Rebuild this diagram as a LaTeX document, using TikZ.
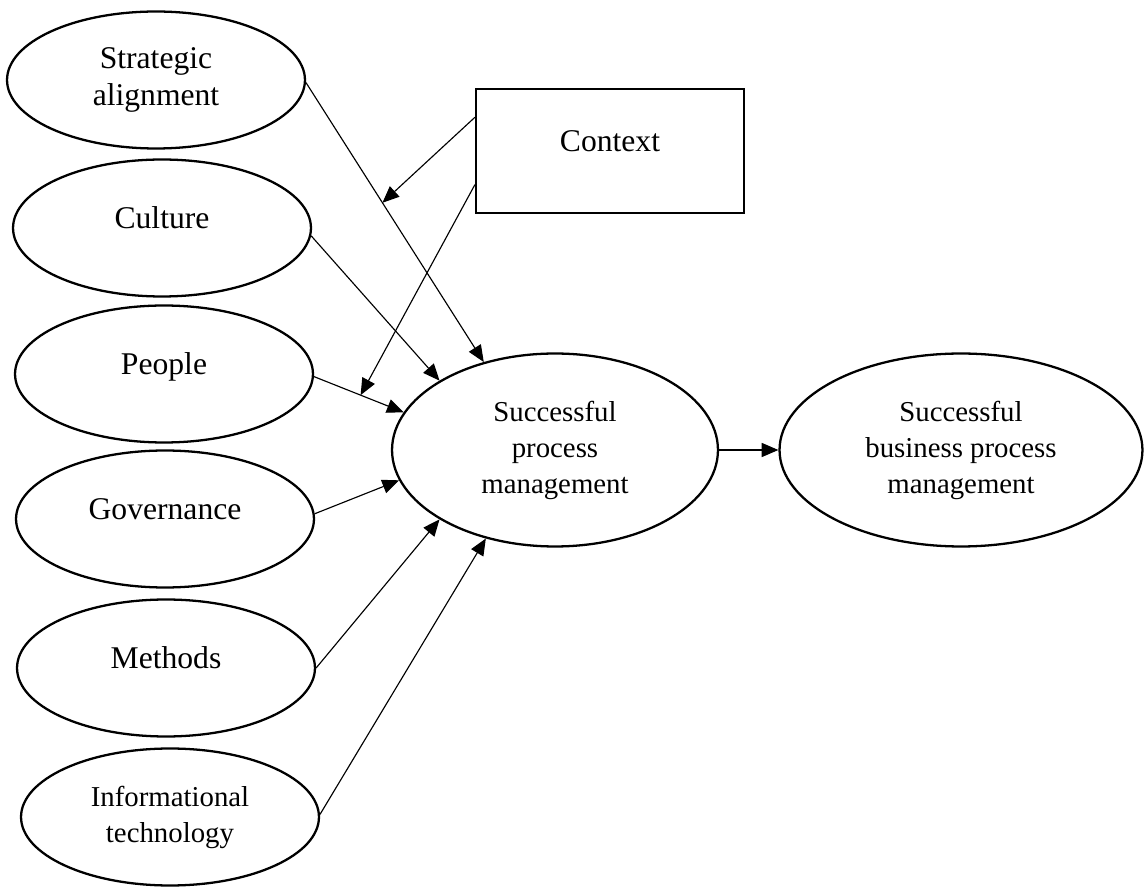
\documentclass[tikz,border=0pt]{standalone}
\usepackage{fontspec}
\setmainfont{Liberation Serif}
\usepackage{tikz}
\usetikzlibrary{shapes.geometric}
\usetikzlibrary{arrows.meta}
\usetikzlibrary{calc}

\begin{document}
\begin{tikzpicture}
[x=0.02cm,y=-0.02cm,
factor/.style={ellipse,draw=black,line width=1.3pt,inner sep=0pt,align=center,
  minimum width=5.96cm,minimum height=2.74cm,font=\fontsize{18}{21.5}\selectfont},
oneline/.style={text height=12.5pt,text depth=11.5pt},
small/.style={font=\fontsize{16.4}{20.5}\selectfont},
outcome/.style={ellipse,draw=black,line width=1.3pt,inner sep=0pt,align=center,
  minimum height=3.86cm,font=\fontsize{16.4}{20.5}\selectfont},
ctxbox/.style={rectangle,draw=black,line width=1.3pt,inner sep=0pt,
  minimum width=5.36cm,minimum height=2.48cm,font=\fontsize{18}{21.5}\selectfont},
link/.style={-{Triangle[length=9.5pt,width=8pt]},line width=0.65pt,draw=black}]

\useasboundingbox (0,0) rectangle (1144,888);

\node at (156,80)  [factor]         (strat) {Strategic\\alignment};
\node at (162,228) [factor,oneline] (cult)  {Culture};
\node at (164,374) [factor,oneline] (peop)  {People};
\node at (165,519) [factor,oneline] (gov)   {Governance};
\node at (166,668) [factor,oneline] (meth)  {Methods};
\node at (170,817) [factor,small]   (it)    {Informational\\technology};

\node at (610,151) [ctxbox,oneline] (ctx) {Context};

\node at (555,450) [outcome,minimum width=6.52cm] (spm)  {Successful\\process\\management};
\node at (961,450) [outcome,minimum width=7.26cm] (sbpm) {Successful\\business process\\management};

\draw [link] (strat.-1) to (spm.129.7);
\draw [link] (cult.-3)  to (spm.149.3);
\draw [link] (peop.-1)  to (spm.166.1);
\draw [link] (gov.2)    to (spm.191.4);
\draw [link] (meth.0)   to (spm.211);
\draw [link] (it.1)     to (spm.232);
\draw [link] (spm.east) to (sbpm.west);

\coordinate (mod1) at ($(strat.-1)!0.43!(spm.129.7)$);
\coordinate (mod2) at ($(peop.-1)!0.52!(spm.166.1)$);
\draw [link] (ctx.166.6) to (mod1);
\draw [link] (ctx.194.6) to (mod2);
\end{tikzpicture}
\end{document}
